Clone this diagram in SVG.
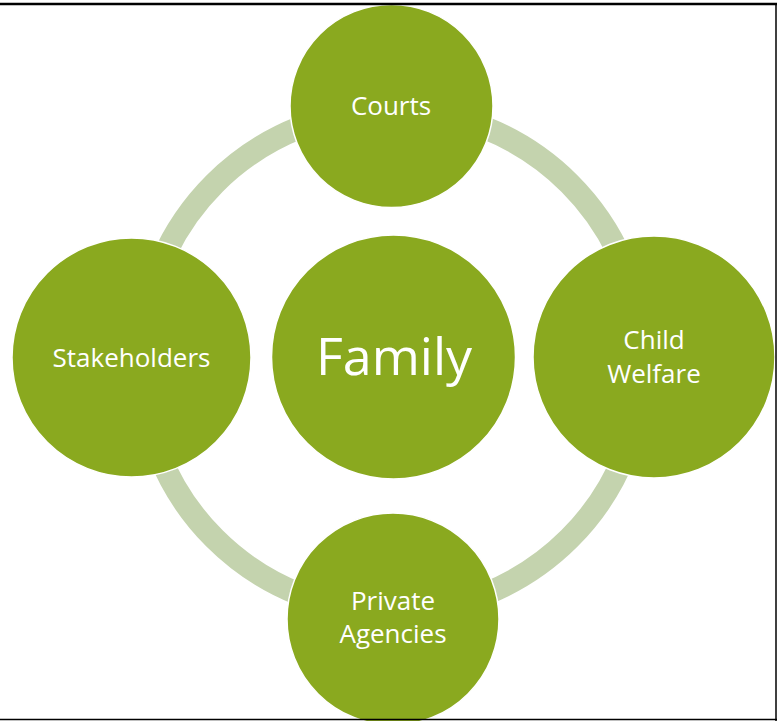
<svg xmlns="http://www.w3.org/2000/svg" width="777" height="721" viewBox="0 0 777 721">
<style>
.node{fill:#8AA91F;stroke:#FFFFFF;stroke-width:1.5}
.lbl{font-family:"Open Sans","Liberation Sans",sans-serif;fill:#FFFFFF;text-anchor:middle;font-size:26px}
.big{font-size:52px}
.ring{fill:none;stroke:#C4D3AE;stroke-width:23}
.border{stroke:#000000;fill:none}
</style>
<rect width="777" height="721" fill="#FFFFFF"/>
<g id="connectors">
<circle class="ring" cx="392" cy="361" r="251"/>
</g>
<g id="family">
<circle class="node" cx="393.5" cy="357" r="122"/>
<text class="lbl big" x="394" y="375">Family</text>
</g>
<g id="courts">
<circle class="node" cx="391.5" cy="106" r="101.5"/>
<text class="lbl" x="391" y="115">Courts</text>
</g>
<g id="stakeholders">
<circle class="node" cx="131.5" cy="357.5" r="119.5"/>
<text class="lbl" x="131.5" y="367">Stakeholders</text>
</g>
<g id="child-welfare">
<circle class="node" cx="654" cy="357" r="121"/>
<text class="lbl" x="654" y="349">Child</text>
<text class="lbl" x="654" y="383">Welfare</text>
</g>
<g id="private-agencies">
<circle class="node" cx="393" cy="619" r="106"/>
<text class="lbl" x="393" y="610">Private</text>
<text class="lbl" x="393" y="643">Agencies</text>
</g>
<g id="frame">
<line class="border" x1="0" y1="4" x2="777" y2="4" stroke-width="2.5" stroke="#222"/>
<line class="border" x1="776" y1="3" x2="776" y2="721" stroke-width="1.5"/>
<line class="border" x1="0" y1="719.5" x2="777" y2="719.5" stroke-width="1.5"/>
</g>
</svg>
